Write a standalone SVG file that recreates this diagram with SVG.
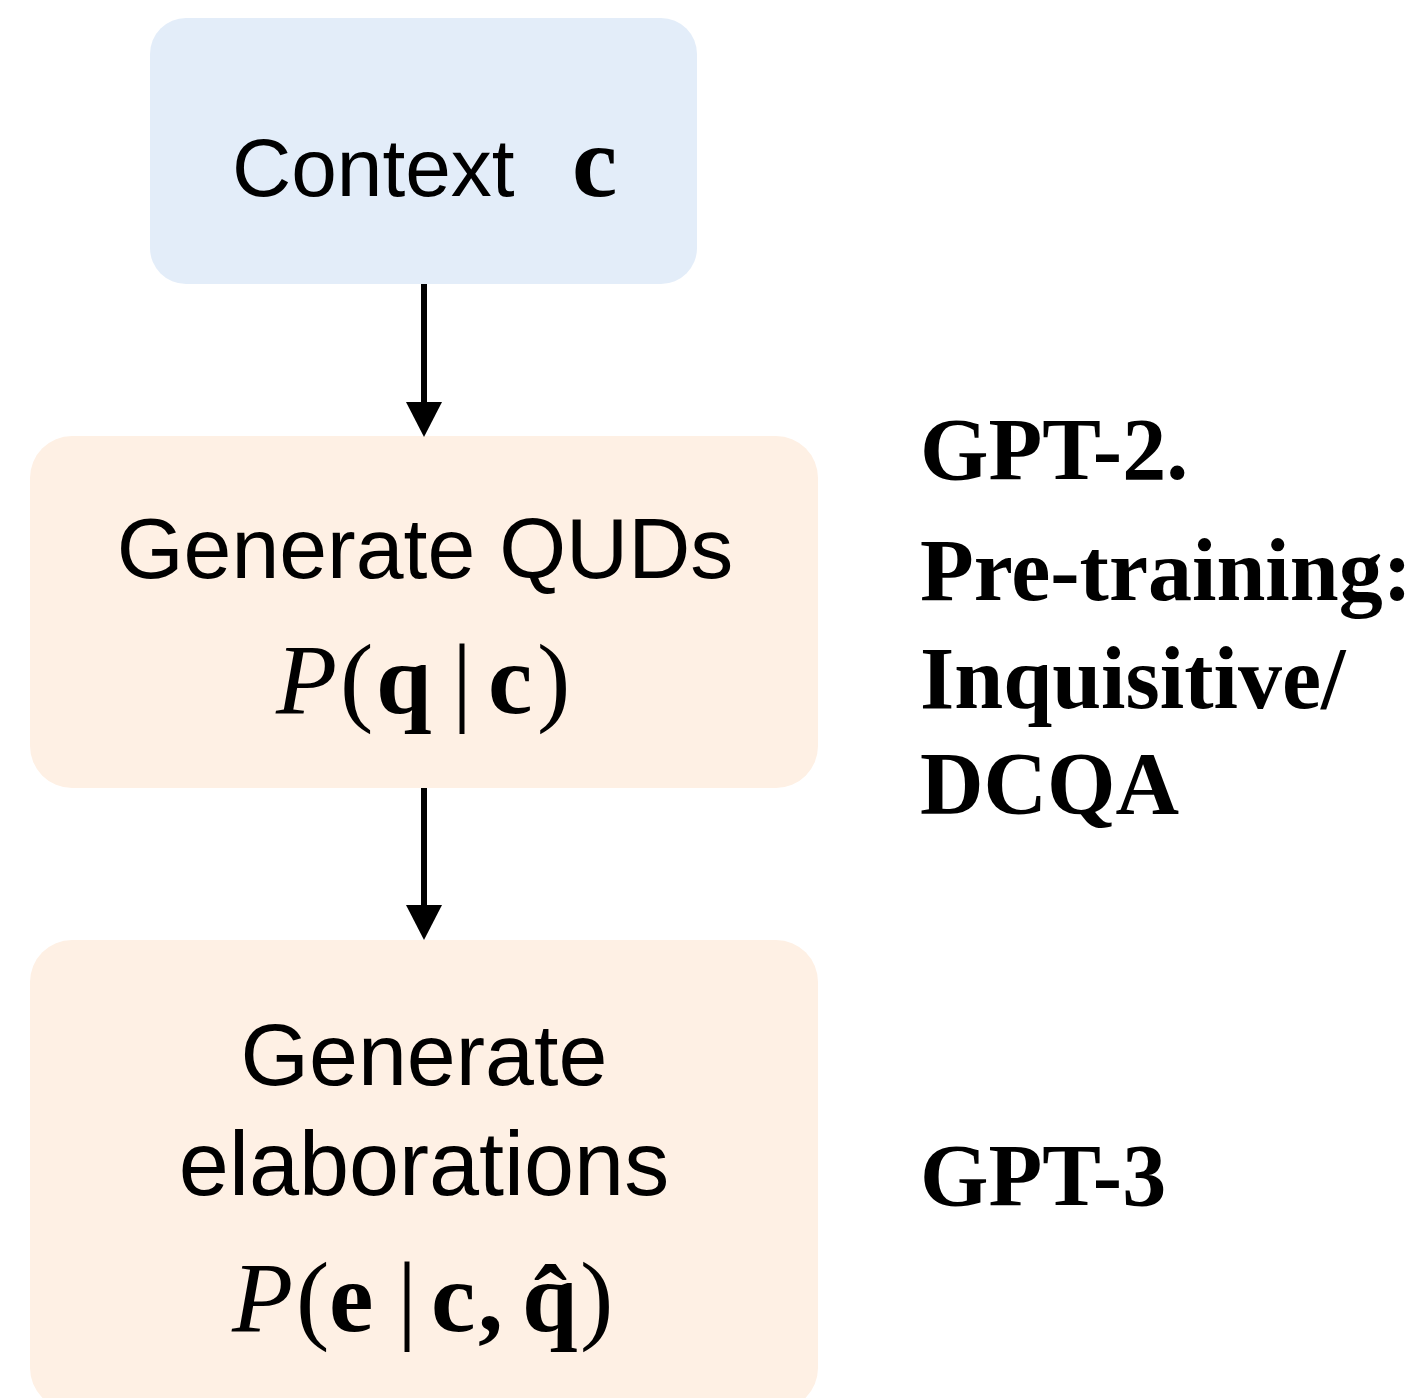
<svg xmlns="http://www.w3.org/2000/svg" width="1428" height="1398" viewBox="0 0 1428 1398">
<style>
.sans{font-family:"Liberation Sans",Arial,sans-serif;fill:#000}
.math{font-family:"Liberation Serif","Times New Roman",serif;fill:#000}
.lbl{font-family:"Liberation Serif","Times New Roman",serif;font-weight:bold;font-size:88px;fill:#000}
.conn{stroke:#000;stroke-width:6;fill:none}
</style>
<defs>
<marker id="ah" viewBox="0 0 35 36" refX="1" refY="18" markerWidth="35" markerHeight="36" markerUnits="userSpaceOnUse" orient="auto">
<path d="M0,0 L35,18 L0,36 z" fill="#000"/>
</marker>
</defs>
<g id="context">
<rect x="150" y="18" width="547" height="266" rx="36" fill="#E3EDF9"/>
<text class="sans" font-size="82" x="232" y="196">Context</text>
<text class="math" font-size="102" font-weight="bold" x="572" y="196">c</text>
</g>
<g id="qud">
<rect x="30" y="436" width="788" height="352" rx="42" fill="#FEF0E4"/>
<text class="sans" font-size="86" x="425" y="578" text-anchor="middle">Generate QUDs</text>
<text class="math" font-size="100" y="713"><tspan x="276" font-style="italic">P</tspan><tspan x="340">(</tspan><tspan x="376" font-weight="bold">q</tspan><tspan x="452">|</tspan><tspan x="488" font-weight="bold">c</tspan><tspan x="537">)</tspan></text>
</g>
<g id="elab">
<rect x="30" y="940" width="788" height="470" rx="42" fill="#FEF0E4"/>
<text class="sans" font-size="88" x="424" y="1085" text-anchor="middle">Generate</text>
<text class="sans" font-size="90" x="424" y="1195" text-anchor="middle">elaborations</text>
<text class="math" font-size="100" y="1331"><tspan x="232" font-style="italic">P</tspan><tspan x="296">(</tspan><tspan x="329" font-weight="bold">e</tspan><tspan x="397">|</tspan><tspan x="431" font-weight="bold">c</tspan><tspan x="478" font-weight="bold">,</tspan><tspan x="522" font-weight="bold">q&#x302;</tspan><tspan x="580">)</tspan></text>
</g>
<g id="labels">
<text class="lbl" x="920" y="479">GPT-2.</text>
<text class="lbl" x="920" y="600">Pre-training:</text>
<text class="lbl" x="920" y="708">Inquisitive/</text>
<text class="lbl" x="920" y="813">DCQA</text>
<text class="lbl" x="920" y="1205">GPT-3</text>
</g>
<g id="connectors">
<line class="conn" x1="424" y1="284" x2="424" y2="403" marker-end="url(#ah)"/>
<line class="conn" x1="424" y1="788" x2="424" y2="906" marker-end="url(#ah)"/>
</g>
</svg>
